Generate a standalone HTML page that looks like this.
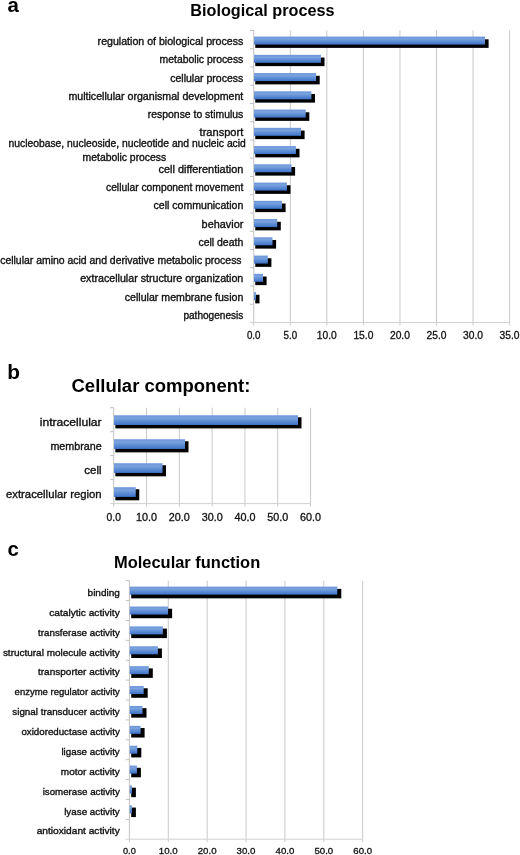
<!DOCTYPE html>
<html lang="en"><head><meta charset="utf-8"><title>GO term distribution</title>
<style>html,body{margin:0;padding:0;background:#fff}svg{display:block}text{font-family:"Liberation Sans", Arial, Helvetica, sans-serif}</style>
</head><body>
<svg width="520" height="855" viewBox="0 0 520 855">
<defs><linearGradient id="bg" x1="0" y1="0" x2="0" y2="1"><stop offset="0" stop-color="#6a95da"/><stop offset="0.3" stop-color="#7aa2de"/><stop offset="0.65" stop-color="#5a8ad4"/><stop offset="1" stop-color="#3e72c6"/></linearGradient></defs>
<rect width="520" height="855" fill="#fff"/>
<text x="7.50" y="11.60" font-size="20.4" font-weight="bold" fill="#000">a</text>
<text x="7.20" y="378.60" font-size="20.8" font-weight="bold" fill="#000">b</text>
<text x="7.50" y="555.90" font-size="20.4" font-weight="bold" fill="#000">c</text>
<text x="190.30" y="16.30" font-size="17" textLength="144.2" lengthAdjust="spacingAndGlyphs" font-weight="bold" fill="#000">Biological process</text>
<text x="71.50" y="391.80" font-size="17.5" textLength="178.8" lengthAdjust="spacingAndGlyphs" font-weight="bold" fill="#000">Cellular component:</text>
<text x="114.00" y="567.90" font-size="16.3" textLength="146.2" lengthAdjust="spacingAndGlyphs" font-weight="bold" fill="#000">Molecular function</text>
<line x1="290.30" y1="30.50" x2="290.30" y2="325.50" stroke="#c9c9c9" stroke-width="1"/>
<line x1="326.85" y1="30.50" x2="326.85" y2="325.50" stroke="#c9c9c9" stroke-width="1"/>
<line x1="363.40" y1="30.50" x2="363.40" y2="325.50" stroke="#c9c9c9" stroke-width="1"/>
<line x1="399.95" y1="30.50" x2="399.95" y2="325.50" stroke="#c9c9c9" stroke-width="1"/>
<line x1="436.50" y1="30.50" x2="436.50" y2="325.50" stroke="#c9c9c9" stroke-width="1"/>
<line x1="473.05" y1="30.50" x2="473.05" y2="325.50" stroke="#c9c9c9" stroke-width="1"/>
<line x1="509.60" y1="30.50" x2="509.60" y2="325.50" stroke="#c9c9c9" stroke-width="1"/>
<line x1="253.75" y1="30.50" x2="253.75" y2="325.50" stroke="#c2c2c2" stroke-width="1"/>
<line x1="250.05" y1="322.50" x2="509.60" y2="322.50" stroke="#d2d2d2" stroke-width="1"/>
<line x1="250.05" y1="30.50" x2="253.75" y2="30.50" stroke="#c2c2c2" stroke-width="1"/>
<line x1="250.05" y1="48.75" x2="253.75" y2="48.75" stroke="#c2c2c2" stroke-width="1"/>
<line x1="250.05" y1="67.00" x2="253.75" y2="67.00" stroke="#c2c2c2" stroke-width="1"/>
<line x1="250.05" y1="85.25" x2="253.75" y2="85.25" stroke="#c2c2c2" stroke-width="1"/>
<line x1="250.05" y1="103.50" x2="253.75" y2="103.50" stroke="#c2c2c2" stroke-width="1"/>
<line x1="250.05" y1="121.75" x2="253.75" y2="121.75" stroke="#c2c2c2" stroke-width="1"/>
<line x1="250.05" y1="140.00" x2="253.75" y2="140.00" stroke="#c2c2c2" stroke-width="1"/>
<line x1="250.05" y1="158.25" x2="253.75" y2="158.25" stroke="#c2c2c2" stroke-width="1"/>
<line x1="250.05" y1="176.50" x2="253.75" y2="176.50" stroke="#c2c2c2" stroke-width="1"/>
<line x1="250.05" y1="194.75" x2="253.75" y2="194.75" stroke="#c2c2c2" stroke-width="1"/>
<line x1="250.05" y1="213.00" x2="253.75" y2="213.00" stroke="#c2c2c2" stroke-width="1"/>
<line x1="250.05" y1="231.25" x2="253.75" y2="231.25" stroke="#c2c2c2" stroke-width="1"/>
<line x1="250.05" y1="249.50" x2="253.75" y2="249.50" stroke="#c2c2c2" stroke-width="1"/>
<line x1="250.05" y1="267.75" x2="253.75" y2="267.75" stroke="#c2c2c2" stroke-width="1"/>
<line x1="250.05" y1="286.00" x2="253.75" y2="286.00" stroke="#c2c2c2" stroke-width="1"/>
<line x1="250.05" y1="304.25" x2="253.75" y2="304.25" stroke="#c2c2c2" stroke-width="1"/>
<rect x="255.25" y="39.28" width="233.35" height="8.60" fill="#000"/>
<rect x="254.05" y="36.58" width="230.95" height="8.00" fill="url(#bg)"/>
<rect x="255.25" y="57.53" width="69.25" height="8.60" fill="#000"/>
<rect x="254.05" y="54.83" width="66.85" height="8.00" fill="url(#bg)"/>
<rect x="255.25" y="75.78" width="64.45" height="8.60" fill="#000"/>
<rect x="254.05" y="73.08" width="62.05" height="8.00" fill="url(#bg)"/>
<rect x="255.25" y="94.03" width="59.75" height="8.60" fill="#000"/>
<rect x="254.05" y="91.33" width="57.35" height="8.00" fill="url(#bg)"/>
<rect x="255.25" y="112.28" width="54.05" height="8.60" fill="#000"/>
<rect x="254.05" y="109.58" width="51.65" height="8.00" fill="url(#bg)"/>
<rect x="255.25" y="130.53" width="49.35" height="8.60" fill="#000"/>
<rect x="254.05" y="127.83" width="46.95" height="8.00" fill="url(#bg)"/>
<rect x="255.25" y="148.77" width="44.25" height="8.60" fill="#000"/>
<rect x="254.05" y="146.07" width="41.85" height="8.00" fill="url(#bg)"/>
<rect x="255.25" y="167.02" width="39.85" height="8.60" fill="#000"/>
<rect x="254.05" y="164.32" width="37.45" height="8.00" fill="url(#bg)"/>
<rect x="255.25" y="185.27" width="35.25" height="8.60" fill="#000"/>
<rect x="254.05" y="182.57" width="32.85" height="8.00" fill="url(#bg)"/>
<rect x="255.25" y="203.52" width="30.35" height="8.60" fill="#000"/>
<rect x="254.05" y="200.82" width="27.95" height="8.00" fill="url(#bg)"/>
<rect x="255.25" y="221.77" width="25.55" height="8.60" fill="#000"/>
<rect x="254.05" y="219.07" width="23.15" height="8.00" fill="url(#bg)"/>
<rect x="255.25" y="240.02" width="20.85" height="8.60" fill="#000"/>
<rect x="254.05" y="237.32" width="18.45" height="8.00" fill="url(#bg)"/>
<rect x="255.25" y="258.27" width="16.15" height="8.60" fill="#000"/>
<rect x="254.05" y="255.57" width="13.75" height="8.00" fill="url(#bg)"/>
<rect x="255.25" y="276.52" width="11.35" height="8.60" fill="#000"/>
<rect x="254.05" y="273.82" width="8.95" height="8.00" fill="url(#bg)"/>
<rect x="255.25" y="294.77" width="4.25" height="8.60" fill="#000"/>
<rect x="254.05" y="292.07" width="1.85" height="8.00" fill="url(#bg)"/>
<text x="243.30" y="45.02" font-size="10.4" text-anchor="end" textLength="145.7" lengthAdjust="spacingAndGlyphs" stroke="#111" stroke-width="0.35" fill="#111">regulation of biological process</text>
<text x="243.30" y="63.27" font-size="10.4" text-anchor="end" textLength="83.7" lengthAdjust="spacingAndGlyphs" stroke="#111" stroke-width="0.35" fill="#111">metabolic process</text>
<text x="243.30" y="81.53" font-size="10.4" text-anchor="end" textLength="73.1" lengthAdjust="spacingAndGlyphs" stroke="#111" stroke-width="0.35" fill="#111">cellular process</text>
<text x="243.30" y="99.78" font-size="10.4" text-anchor="end" textLength="174.9" lengthAdjust="spacingAndGlyphs" stroke="#111" stroke-width="0.35" fill="#111">multicellular organismal development</text>
<text x="243.30" y="118.03" font-size="10.4" text-anchor="end" textLength="95.5" lengthAdjust="spacingAndGlyphs" stroke="#111" stroke-width="0.35" fill="#111">response to stimulus</text>
<text x="243.30" y="136.28" font-size="10.4" text-anchor="end" textLength="43.7" lengthAdjust="spacingAndGlyphs" stroke="#111" stroke-width="0.35" fill="#111">transport</text>
<text x="245.80" y="147.22" font-size="10.4" text-anchor="end" textLength="237.2" lengthAdjust="spacingAndGlyphs" stroke="#111" stroke-width="0.35" fill="#111">nucleobase, nucleoside, nucleotide and nucleic acid</text>
<text x="166.20" y="160.72" font-size="10.4" text-anchor="end" textLength="83.6" lengthAdjust="spacingAndGlyphs" stroke="#111" stroke-width="0.35" fill="#111">metabolic process</text>
<text x="243.30" y="172.78" font-size="10.4" text-anchor="end" textLength="84.8" lengthAdjust="spacingAndGlyphs" stroke="#111" stroke-width="0.35" fill="#111">cell differentiation</text>
<text x="243.30" y="191.03" font-size="10.4" text-anchor="end" textLength="137.3" lengthAdjust="spacingAndGlyphs" stroke="#111" stroke-width="0.35" fill="#111">cellular component movement</text>
<text x="243.30" y="209.28" font-size="10.4" text-anchor="end" textLength="89.8" lengthAdjust="spacingAndGlyphs" stroke="#111" stroke-width="0.35" fill="#111">cell communication</text>
<text x="243.30" y="227.53" font-size="10.4" text-anchor="end" textLength="41.7" lengthAdjust="spacingAndGlyphs" stroke="#111" stroke-width="0.35" fill="#111">behavior</text>
<text x="243.30" y="245.78" font-size="10.4" text-anchor="end" textLength="44.9" lengthAdjust="spacingAndGlyphs" stroke="#111" stroke-width="0.35" fill="#111">cell death</text>
<text x="241.60" y="264.02" font-size="10.4" text-anchor="end" textLength="241.4" lengthAdjust="spacingAndGlyphs" stroke="#111" stroke-width="0.35" fill="#111">cellular amino acid and derivative metabolic process</text>
<text x="243.30" y="282.27" font-size="10.4" text-anchor="end" textLength="163.1" lengthAdjust="spacingAndGlyphs" stroke="#111" stroke-width="0.35" fill="#111">extracellular structure organization</text>
<text x="243.30" y="300.52" font-size="10.4" text-anchor="end" textLength="118.5" lengthAdjust="spacingAndGlyphs" stroke="#111" stroke-width="0.35" fill="#111">cellular membrane fusion</text>
<text x="243.30" y="318.77" font-size="10.4" text-anchor="end" textLength="59.9" lengthAdjust="spacingAndGlyphs" stroke="#111" stroke-width="0.35" fill="#111">pathogenesis</text>
<text x="253.75" y="339.00" font-size="10.1" text-anchor="middle" textLength="13.6" lengthAdjust="spacingAndGlyphs" stroke="#111" stroke-width="0.3" fill="#111">0.0</text>
<text x="290.30" y="339.00" font-size="10.1" text-anchor="middle" textLength="13.6" lengthAdjust="spacingAndGlyphs" stroke="#111" stroke-width="0.3" fill="#111">5.0</text>
<text x="326.85" y="339.00" font-size="10.1" text-anchor="middle" textLength="20.0" lengthAdjust="spacingAndGlyphs" stroke="#111" stroke-width="0.3" fill="#111">10.0</text>
<text x="363.40" y="339.00" font-size="10.1" text-anchor="middle" textLength="20.0" lengthAdjust="spacingAndGlyphs" stroke="#111" stroke-width="0.3" fill="#111">15.0</text>
<text x="399.95" y="339.00" font-size="10.1" text-anchor="middle" textLength="20.0" lengthAdjust="spacingAndGlyphs" stroke="#111" stroke-width="0.3" fill="#111">20.0</text>
<text x="436.50" y="339.00" font-size="10.1" text-anchor="middle" textLength="20.0" lengthAdjust="spacingAndGlyphs" stroke="#111" stroke-width="0.3" fill="#111">25.0</text>
<text x="473.05" y="339.00" font-size="10.1" text-anchor="middle" textLength="20.0" lengthAdjust="spacingAndGlyphs" stroke="#111" stroke-width="0.3" fill="#111">30.0</text>
<text x="509.60" y="339.00" font-size="10.1" text-anchor="middle" textLength="20.0" lengthAdjust="spacingAndGlyphs" stroke="#111" stroke-width="0.3" fill="#111">35.0</text>
<line x1="146.55" y1="407.70" x2="146.55" y2="506.60" stroke="#c9c9c9" stroke-width="1"/>
<line x1="179.35" y1="407.70" x2="179.35" y2="506.60" stroke="#c9c9c9" stroke-width="1"/>
<line x1="212.15" y1="407.70" x2="212.15" y2="506.60" stroke="#c9c9c9" stroke-width="1"/>
<line x1="244.95" y1="407.70" x2="244.95" y2="506.60" stroke="#c9c9c9" stroke-width="1"/>
<line x1="277.75" y1="407.70" x2="277.75" y2="506.60" stroke="#c9c9c9" stroke-width="1"/>
<line x1="310.55" y1="407.70" x2="310.55" y2="506.60" stroke="#c9c9c9" stroke-width="1"/>
<line x1="113.75" y1="407.70" x2="113.75" y2="506.60" stroke="#c2c2c2" stroke-width="1"/>
<line x1="110.05" y1="503.60" x2="310.55" y2="503.60" stroke="#d2d2d2" stroke-width="1"/>
<line x1="110.05" y1="407.70" x2="113.75" y2="407.70" stroke="#c2c2c2" stroke-width="1"/>
<line x1="110.05" y1="431.68" x2="113.75" y2="431.68" stroke="#c2c2c2" stroke-width="1"/>
<line x1="110.05" y1="455.65" x2="113.75" y2="455.65" stroke="#c2c2c2" stroke-width="1"/>
<line x1="110.05" y1="479.62" x2="113.75" y2="479.62" stroke="#c2c2c2" stroke-width="1"/>
<rect x="115.35" y="417.29" width="186.15" height="11.10" fill="#000"/>
<rect x="114.05" y="415.29" width="183.95" height="9.70" fill="url(#bg)"/>
<rect x="115.35" y="441.26" width="73.15" height="11.10" fill="#000"/>
<rect x="114.05" y="439.26" width="70.95" height="9.70" fill="url(#bg)"/>
<rect x="115.35" y="465.24" width="50.65" height="11.10" fill="#000"/>
<rect x="114.05" y="463.24" width="48.45" height="9.70" fill="url(#bg)"/>
<rect x="115.35" y="489.21" width="23.90" height="11.10" fill="#000"/>
<rect x="114.05" y="487.21" width="21.70" height="9.70" fill="url(#bg)"/>
<text x="101.60" y="426.29" font-size="11" text-anchor="end" textLength="61.8" lengthAdjust="spacingAndGlyphs" stroke="#111" stroke-width="0.35" fill="#111">intracellular</text>
<text x="101.60" y="450.26" font-size="11" text-anchor="end" textLength="51.2" lengthAdjust="spacingAndGlyphs" stroke="#111" stroke-width="0.35" fill="#111">membrane</text>
<text x="101.60" y="474.24" font-size="11" text-anchor="end" textLength="17.3" lengthAdjust="spacingAndGlyphs" stroke="#111" stroke-width="0.35" fill="#111">cell</text>
<text x="101.60" y="498.21" font-size="11" text-anchor="end" textLength="95.6" lengthAdjust="spacingAndGlyphs" stroke="#111" stroke-width="0.35" fill="#111">extracellular region</text>
<text x="113.75" y="521.00" font-size="10.4" text-anchor="middle" textLength="14.3" lengthAdjust="spacingAndGlyphs" stroke="#111" stroke-width="0.3" fill="#111">0.0</text>
<text x="146.55" y="521.00" font-size="10.4" text-anchor="middle" textLength="21.0" lengthAdjust="spacingAndGlyphs" stroke="#111" stroke-width="0.3" fill="#111">10.0</text>
<text x="179.35" y="521.00" font-size="10.4" text-anchor="middle" textLength="21.0" lengthAdjust="spacingAndGlyphs" stroke="#111" stroke-width="0.3" fill="#111">20.0</text>
<text x="212.15" y="521.00" font-size="10.4" text-anchor="middle" textLength="21.0" lengthAdjust="spacingAndGlyphs" stroke="#111" stroke-width="0.3" fill="#111">30.0</text>
<text x="244.95" y="521.00" font-size="10.4" text-anchor="middle" textLength="21.0" lengthAdjust="spacingAndGlyphs" stroke="#111" stroke-width="0.3" fill="#111">40.0</text>
<text x="277.75" y="521.00" font-size="10.4" text-anchor="middle" textLength="21.0" lengthAdjust="spacingAndGlyphs" stroke="#111" stroke-width="0.3" fill="#111">50.0</text>
<text x="310.55" y="521.00" font-size="10.4" text-anchor="middle" textLength="21.0" lengthAdjust="spacingAndGlyphs" stroke="#111" stroke-width="0.3" fill="#111">60.0</text>
<line x1="168.28" y1="580.70" x2="168.28" y2="842.20" stroke="#c9c9c9" stroke-width="1"/>
<line x1="207.16" y1="580.70" x2="207.16" y2="842.20" stroke="#c9c9c9" stroke-width="1"/>
<line x1="246.04" y1="580.70" x2="246.04" y2="842.20" stroke="#c9c9c9" stroke-width="1"/>
<line x1="284.92" y1="580.70" x2="284.92" y2="842.20" stroke="#c9c9c9" stroke-width="1"/>
<line x1="323.80" y1="580.70" x2="323.80" y2="842.20" stroke="#c9c9c9" stroke-width="1"/>
<line x1="362.68" y1="580.70" x2="362.68" y2="842.20" stroke="#c9c9c9" stroke-width="1"/>
<line x1="129.40" y1="580.70" x2="129.40" y2="842.20" stroke="#c2c2c2" stroke-width="1"/>
<line x1="125.70" y1="839.20" x2="362.68" y2="839.20" stroke="#d2d2d2" stroke-width="1"/>
<line x1="125.70" y1="580.70" x2="129.40" y2="580.70" stroke="#c2c2c2" stroke-width="1"/>
<line x1="125.70" y1="600.58" x2="129.40" y2="600.58" stroke="#c2c2c2" stroke-width="1"/>
<line x1="125.70" y1="620.47" x2="129.40" y2="620.47" stroke="#c2c2c2" stroke-width="1"/>
<line x1="125.70" y1="640.35" x2="129.40" y2="640.35" stroke="#c2c2c2" stroke-width="1"/>
<line x1="125.70" y1="660.24" x2="129.40" y2="660.24" stroke="#c2c2c2" stroke-width="1"/>
<line x1="125.70" y1="680.12" x2="129.40" y2="680.12" stroke="#c2c2c2" stroke-width="1"/>
<line x1="125.70" y1="700.01" x2="129.40" y2="700.01" stroke="#c2c2c2" stroke-width="1"/>
<line x1="125.70" y1="719.89" x2="129.40" y2="719.89" stroke="#c2c2c2" stroke-width="1"/>
<line x1="125.70" y1="739.78" x2="129.40" y2="739.78" stroke="#c2c2c2" stroke-width="1"/>
<line x1="125.70" y1="759.66" x2="129.40" y2="759.66" stroke="#c2c2c2" stroke-width="1"/>
<line x1="125.70" y1="779.55" x2="129.40" y2="779.55" stroke="#c2c2c2" stroke-width="1"/>
<line x1="125.70" y1="799.43" x2="129.40" y2="799.43" stroke="#c2c2c2" stroke-width="1"/>
<line x1="125.70" y1="819.32" x2="129.40" y2="819.32" stroke="#c2c2c2" stroke-width="1"/>
<rect x="131.20" y="588.84" width="210.10" height="9.50" fill="#000"/>
<rect x="129.70" y="586.64" width="207.60" height="8.00" fill="url(#bg)"/>
<rect x="131.20" y="608.73" width="40.90" height="9.50" fill="#000"/>
<rect x="129.70" y="606.53" width="38.40" height="8.00" fill="url(#bg)"/>
<rect x="131.20" y="628.61" width="35.70" height="9.50" fill="#000"/>
<rect x="129.70" y="626.41" width="33.20" height="8.00" fill="url(#bg)"/>
<rect x="131.20" y="648.50" width="30.70" height="9.50" fill="#000"/>
<rect x="129.70" y="646.30" width="28.20" height="8.00" fill="url(#bg)"/>
<rect x="131.20" y="668.38" width="21.60" height="9.50" fill="#000"/>
<rect x="129.70" y="666.18" width="19.10" height="8.00" fill="url(#bg)"/>
<rect x="131.20" y="688.27" width="16.50" height="9.50" fill="#000"/>
<rect x="129.70" y="686.07" width="14.00" height="8.00" fill="url(#bg)"/>
<rect x="131.20" y="708.15" width="15.30" height="9.50" fill="#000"/>
<rect x="129.70" y="705.95" width="12.80" height="8.00" fill="url(#bg)"/>
<rect x="131.20" y="728.03" width="13.40" height="9.50" fill="#000"/>
<rect x="129.70" y="725.83" width="10.90" height="8.00" fill="url(#bg)"/>
<rect x="131.20" y="747.92" width="10.10" height="9.50" fill="#000"/>
<rect x="129.70" y="745.72" width="7.60" height="8.00" fill="url(#bg)"/>
<rect x="131.20" y="767.80" width="9.70" height="9.50" fill="#000"/>
<rect x="129.70" y="765.60" width="7.20" height="8.00" fill="url(#bg)"/>
<rect x="131.20" y="787.69" width="4.70" height="9.50" fill="#000"/>
<rect x="129.70" y="785.49" width="2.20" height="8.00" fill="url(#bg)"/>
<rect x="131.20" y="807.57" width="4.70" height="9.50" fill="#000"/>
<rect x="129.70" y="805.37" width="2.20" height="8.00" fill="url(#bg)"/>
<text x="119.80" y="595.84" font-size="9.5" text-anchor="end" textLength="32.2" lengthAdjust="spacingAndGlyphs" stroke="#111" stroke-width="0.35" fill="#111">binding</text>
<text x="119.80" y="615.73" font-size="9.5" text-anchor="end" textLength="70.6" lengthAdjust="spacingAndGlyphs" stroke="#111" stroke-width="0.35" fill="#111">catalytic activity</text>
<text x="119.80" y="635.61" font-size="9.5" text-anchor="end" textLength="81.8" lengthAdjust="spacingAndGlyphs" stroke="#111" stroke-width="0.35" fill="#111">transferase activity</text>
<text x="119.80" y="655.50" font-size="9.5" text-anchor="end" textLength="116.9" lengthAdjust="spacingAndGlyphs" stroke="#111" stroke-width="0.35" fill="#111">structural molecule activity</text>
<text x="119.80" y="675.38" font-size="9.5" text-anchor="end" textLength="81.8" lengthAdjust="spacingAndGlyphs" stroke="#111" stroke-width="0.35" fill="#111">transporter activity</text>
<text x="119.80" y="695.27" font-size="9.5" text-anchor="end" textLength="105.2" lengthAdjust="spacingAndGlyphs" stroke="#111" stroke-width="0.35" fill="#111">enzyme regulator activity</text>
<text x="119.80" y="715.15" font-size="9.5" text-anchor="end" textLength="107.5" lengthAdjust="spacingAndGlyphs" stroke="#111" stroke-width="0.35" fill="#111">signal transducer activity</text>
<text x="119.80" y="735.03" font-size="9.5" text-anchor="end" textLength="98.4" lengthAdjust="spacingAndGlyphs" stroke="#111" stroke-width="0.35" fill="#111">oxidoreductase activity</text>
<text x="119.80" y="754.92" font-size="9.5" text-anchor="end" textLength="58.4" lengthAdjust="spacingAndGlyphs" stroke="#111" stroke-width="0.35" fill="#111">ligase activity</text>
<text x="119.80" y="774.80" font-size="9.5" text-anchor="end" textLength="59.0" lengthAdjust="spacingAndGlyphs" stroke="#111" stroke-width="0.35" fill="#111">motor activity</text>
<text x="119.80" y="794.69" font-size="9.5" text-anchor="end" textLength="77.1" lengthAdjust="spacingAndGlyphs" stroke="#111" stroke-width="0.35" fill="#111">isomerase activity</text>
<text x="119.80" y="814.57" font-size="9.5" text-anchor="end" textLength="55.6" lengthAdjust="spacingAndGlyphs" stroke="#111" stroke-width="0.35" fill="#111">lyase activity</text>
<text x="119.80" y="834.46" font-size="9.5" text-anchor="end" textLength="83.1" lengthAdjust="spacingAndGlyphs" stroke="#111" stroke-width="0.35" fill="#111">antioxidant activity</text>
<text x="129.40" y="854.00" font-size="9.2" text-anchor="middle" textLength="12.8" lengthAdjust="spacingAndGlyphs" stroke="#111" stroke-width="0.3" fill="#111">0.0</text>
<text x="168.28" y="854.00" font-size="9.2" text-anchor="middle" textLength="18.8" lengthAdjust="spacingAndGlyphs" stroke="#111" stroke-width="0.3" fill="#111">10.0</text>
<text x="207.16" y="854.00" font-size="9.2" text-anchor="middle" textLength="18.8" lengthAdjust="spacingAndGlyphs" stroke="#111" stroke-width="0.3" fill="#111">20.0</text>
<text x="246.04" y="854.00" font-size="9.2" text-anchor="middle" textLength="18.8" lengthAdjust="spacingAndGlyphs" stroke="#111" stroke-width="0.3" fill="#111">30.0</text>
<text x="284.92" y="854.00" font-size="9.2" text-anchor="middle" textLength="18.8" lengthAdjust="spacingAndGlyphs" stroke="#111" stroke-width="0.3" fill="#111">40.0</text>
<text x="323.80" y="854.00" font-size="9.2" text-anchor="middle" textLength="18.8" lengthAdjust="spacingAndGlyphs" stroke="#111" stroke-width="0.3" fill="#111">50.0</text>
<text x="362.68" y="854.00" font-size="9.2" text-anchor="middle" textLength="18.8" lengthAdjust="spacingAndGlyphs" stroke="#111" stroke-width="0.3" fill="#111">60.0</text>
</svg>
</body></html>
